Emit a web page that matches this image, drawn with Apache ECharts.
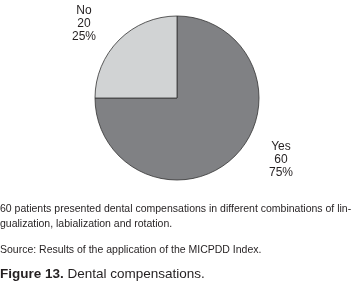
<!DOCTYPE html>
<html>
<head>
<meta charset="utf-8">
<script src="https://cdn.jsdelivr.net/npm/echarts@6/dist/echarts.min.js"></script>
<style>
  html, body { margin: 0; padding: 0; background: #fff; }
  #main { width: 361px; height: 293px; }
</style>
</head>
<body>
<div id="main"></div>
<script>
let categories = ['Yes', 'No'];
let values = [60, 20];
let sliceColors = ['#808184', '#d1d3d4'];
let noteLines = [
    '60 patients presented dental compensations in different combinations of lin-',
    'gualization, labialization and rotation.'
];
let sourceText = 'Source: Results of the application of the MICPDD Index.';
let figureLabel = 'Figure 13.';
let figureText = ' Dental compensations.';

let myChart = echarts.init(document.getElementById('main'));

let pieData = categories.map(function (name, i) {
    return { name: name, value: values[i], itemStyle: { color: sliceColors[i] } };
});

let option = {
    animation: false,
    textStyle: { fontFamily: 'Liberation Sans' },
    series: [{
        type: 'pie',
        center: [177, 98],
        radius: 82,
        startAngle: 90,
        clockwise: true,
        data: pieData,
        itemStyle: { borderColor: '#333', borderWidth: 0.8 },
        emphasis: { disabled: true },
        label: {
            show: true,
            position: 'outside',
            formatter: '{b}\n{c}\n{d}%',
            color: '#231f20',
            fontSize: 12,
            lineHeight: 13,
            align: 'center',
            fontFamily: 'Liberation Sans'
        },
        labelLine: { show: false },
        labelLayout: function (params) {
            // put the labels where the figure has them
            if (params.dataIndex === 0) {
                return { x: 281, y: 160, align: 'center', verticalAlign: 'middle' };
            }
            return { x: 84, y: 24, align: 'center', verticalAlign: 'middle' };
        }
    }],
    graphic: [
        {
            type: 'text', left: 0, top: 202,
            style: { text: noteLines.join('\n'), font: '10.5px "Liberation Sans"', fill: '#231f20', lineHeight: 15 }
        },
        {
            type: 'text', left: 0, top: 245,
            style: { text: sourceText, font: '10.5px "Liberation Sans"', fill: '#231f20' }
        },
        {
            type: 'text', left: 0, top: 267,
            style: {
                text: '{b|' + figureLabel + '}{n|' + figureText + '}',
                rich: {
                    b: { fontFamily: 'Liberation Sans', fontSize: 13.5, fontWeight: 'bold', fill: '#231f20' },
                    n: { fontFamily: 'Liberation Sans', fontSize: 13.5, fill: '#231f20' }
                }
            }
        }
    ]
};

myChart.setOption(option);
</script>
</body>
</html>
